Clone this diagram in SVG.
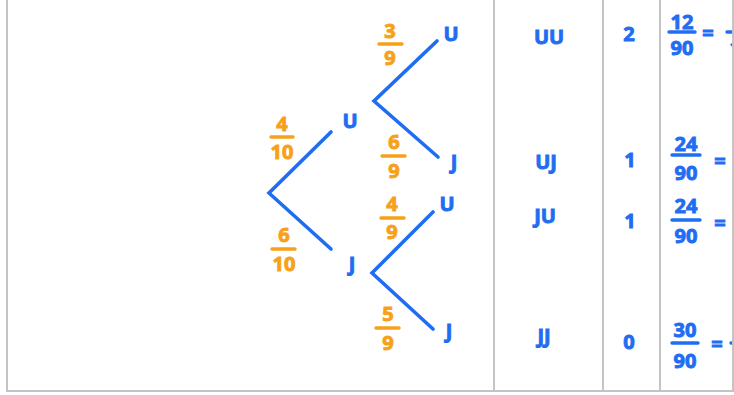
<svg xmlns="http://www.w3.org/2000/svg" width="734" height="395" viewBox="0 0 734 395">
<style>
.grid{stroke:#c4c4c4;stroke-width:2;fill:none}
.br{stroke:#1f6df2;stroke-width:3.6;stroke-linecap:round;fill:none}
.o{fill:#f7a11a;stroke:#f7a11a;stroke-width:0.9;font-family:"Open Sans","Liberation Sans",sans-serif;font-weight:700;font-size:20px;text-anchor:middle;dominant-baseline:central}
.ob{stroke:#f7a11a;stroke-width:3.4;stroke-linecap:round}
.b{fill:#1f6df2;stroke:#1f6df2;stroke-width:0.9;font-family:"Open Sans","Liberation Sans",sans-serif;font-weight:700;font-size:20px;text-anchor:middle;dominant-baseline:central}
.bb{stroke:#1f6df2;stroke-width:3.4;stroke-linecap:round}
</style>
<defs><clipPath id="c"><rect x="0" y="0" width="732" height="395"/></clipPath></defs>
<rect width="734" height="395" fill="#ffffff"/>
<g id="table">
<path class="grid" d="M7 0V391H734M494 0V391M603 0V391M660 0V391M733 0V391"/>
</g>
<g id="connectors">
<path class="br" d="M331 132L269 193L331 249"/>
<path class="br" d="M437 41L374 101L438 157"/>
<path class="br" d="M433 212L372 273L433 329"/>
<g id="p-U"><text class="o" x="282" y="123">4</text><line class="ob" x1="271" y1="137" x2="293" y2="137"/><text class="o" x="282" y="151">10</text></g>
<g id="p-J"><text class="o" x="284" y="234">6</text><line class="ob" x1="272" y1="249" x2="295" y2="249"/><text class="o" x="284" y="263">10</text></g>
<g id="p-UU"><text class="o" x="390" y="30">3</text><line class="ob" x1="379" y1="44" x2="402" y2="44"/><text class="o" x="390" y="57">9</text></g>
<g id="p-UJ"><text class="o" x="394" y="141">6</text><line class="ob" x1="382" y1="156" x2="405" y2="156"/><text class="o" x="394" y="170">9</text></g>
<g id="p-JU"><text class="o" x="392" y="203">4</text><line class="ob" x1="381" y1="218" x2="404" y2="218"/><text class="o" x="392" y="231">9</text></g>
<g id="p-JJ"><text class="o" x="388" y="313">5</text><line class="ob" x1="376" y1="328" x2="399" y2="328"/><text class="o" x="388" y="342">9</text></g>
</g>
<g id="node-U"><text class="b" x="350" y="120">U</text></g>
<g id="node-J"><text class="b" x="352" y="263">J</text></g>
<g id="node-UU"><text class="b" x="451" y="33">U</text></g>
<g id="node-UJ"><text class="b" x="454" y="161">J</text></g>
<g id="node-JU"><text class="b" x="447" y="203">U</text></g>
<g id="node-JJ"><text class="b" x="449" y="330">J</text></g>
<g id="rows" clip-path="url(#c)">
<text class="b" x="549" y="36">UU</text>
<text class="b" x="546" y="161">UJ</text>
<text class="b" x="545" y="215">JU</text>
<text class="b" x="544" y="335">JJ</text>
<text class="b" x="629" y="33">2</text>
<text class="b" x="630" y="159">1</text>
<text class="b" x="630" y="220">1</text>
<text class="b" x="629" y="341">0</text>
<text class="b" x="682" y="21">12</text><line class="bb" x1="669" y1="32" x2="695" y2="32"/><text class="b" x="682" y="47">90</text>
<text class="b" x="708" y="32">=</text>
<text class="b" x="741" y="21">2</text><line class="bb" x1="727" y1="32" x2="752" y2="32"/><text class="b" x="741" y="47">15</text>
<text class="b" x="686" y="143">24</text><line class="bb" x1="672" y1="155" x2="700" y2="155"/><text class="b" x="686" y="172">90</text>
<text class="b" x="720" y="160">=</text>
<text class="b" x="686" y="205">24</text><line class="bb" x1="672" y1="220" x2="700" y2="220"/><text class="b" x="686" y="235">90</text>
<text class="b" x="720" y="222">=</text>
<text class="b" x="685" y="329">30</text><line class="bb" x1="672" y1="343" x2="698" y2="343"/><text class="b" x="685" y="360">90</text>
<text class="b" x="717" y="343">=</text>
<line class="bb" x1="731" y1="343" x2="745" y2="343"/>
</g>
</svg>
